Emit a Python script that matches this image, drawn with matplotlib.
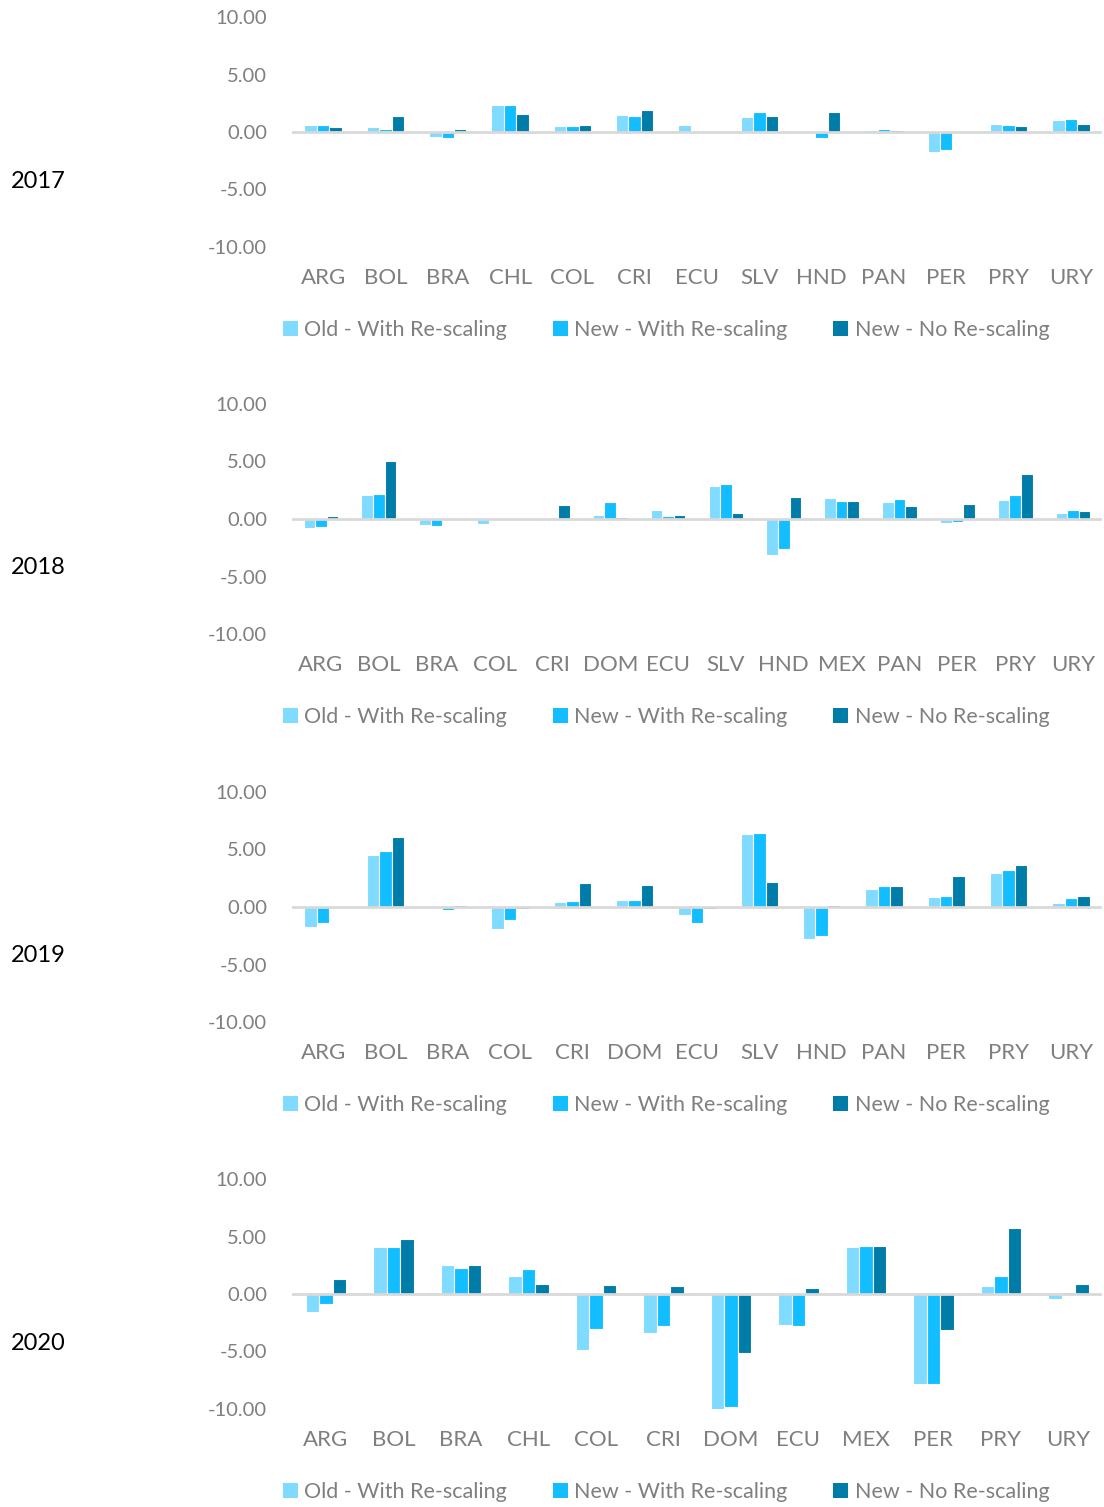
import matplotlib
matplotlib.use('Agg')
import matplotlib.pyplot as plt
import numpy as np
from matplotlib.patches import Patch

plt.rcParams['font.family'] = ['Lato', 'DejaVu Sans']

SERIES_NAMES = ['Old - With Re-scaling', 'New - With Re-scaling', 'New - No Re-scaling']
SERIES_COLORS = ['#7FDBFF', '#12BEFF', '#007CA8']
TEXT_GRAY = '#7F7F7F'

years = ['2017', '2018', '2019', '2020']

countries_2017 = ['ARG', 'BOL', 'BRA', 'CHL', 'COL', 'CRI', 'ECU', 'SLV', 'HND', 'PAN', 'PER', 'PRY', 'URY']
old_2017 = [0.61, 0.41, -0.45, 2.33, 0.49, 1.45, 0.61, 1.31, -0.05, 0.15, -1.70, 0.73, 1.02]
new_2017 = [0.61, 0.23, -0.50, 2.33, 0.52, 1.42, 0.09, 1.77, -0.52, 0.23, -1.57, 0.58, 1.10]
nor_2017 = [0.47, 1.40, 0.26, 1.54, 0.64, 1.95, -0.10, 1.37, 1.77, 0.15, -0.10, 0.52, 0.73]

countries_2018 = ['ARG', 'BOL', 'BRA', 'COL', 'CRI', 'DOM', 'ECU', 'SLV', 'HND', 'MEX', 'PAN', 'PER', 'PRY', 'URY']
old_2018 = [-0.75, 2.09, -0.49, -0.44, 0.12, 0.35, 0.78, 2.88, -3.14, 1.83, 1.48, -0.35, 1.66, 0.49]
new_2018 = [-0.67, 2.15, -0.64, 0.00, 0.09, 1.45, 0.23, 3.05, -2.65, 1.54, 1.74, -0.26, 2.09, 0.76]
nor_2018 = [0.29, 5.03, -0.10, 0.09, 1.22, 0.15, 0.35, 0.49, 1.92, 1.60, 1.13, 1.31, 3.90, 0.67]

countries_2019 = ['ARG', 'BOL', 'BRA', 'COL', 'CRI', 'DOM', 'ECU', 'SLV', 'HND', 'PAN', 'PER', 'PRY', 'URY']
old_2019 = [-1.72, 4.48, -0.05, -1.95, 0.47, 0.58, -0.70, 6.34, -2.82, 1.54, 0.84, 2.94, 0.38]
new_2019 = [-1.40, 4.88, -0.30, -1.16, 0.55, 0.58, -1.42, 6.43, -2.56, 1.86, 0.93, 3.20, 0.76]
nor_2019 = [0.00, 6.10, 0.20, -0.20, 2.06, 1.90, -0.20, 2.18, 0.15, 1.80, 2.70, 3.69, 0.99]

countries_2020 = ['ARG', 'BOL', 'BRA', 'CHL', 'COL', 'CRI', 'DOM', 'ECU', 'MEX', 'PER', 'PRY', 'URY']
old_2020 = [-1.54, 4.13, 2.53, 1.57, -4.83, -3.40, -10.06, -2.67, 4.10, -7.79, 0.73, -0.47]
new_2020 = [-0.84, 4.10, 2.27, 2.15, -3.08, -2.79, -9.80, -2.79, 4.19, -7.79, 1.54, 0.20]
nor_2020 = [1.31, 4.80, 2.53, 0.84, 0.78, 0.67, -5.17, 0.52, 4.19, -3.17, 5.76, 0.84]

panels = [
    (countries_2017, [old_2017, new_2017, nor_2017]),
    (countries_2018, [old_2018, new_2018, nor_2018]),
    (countries_2019, [old_2019, new_2019, nor_2019]),
    (countries_2020, [old_2020, new_2020, nor_2020]),
]

W, H = 1104, 1507
fig = plt.figure(figsize=(W / 100, H / 100), dpi=100)

panel_tops = [17, 404, 792, 1179]
plot_left, plot_right = 292, 1102
plot_height = 230
bar_w = 0.2

for year, top, (countries, series) in zip(years, panel_tops, panels):
    ax = fig.add_axes([plot_left / W, 1 - (top + plot_height) / H,
                       (plot_right - plot_left) / W, plot_height / H])
    x = np.arange(len(countries))
    for k, (vals, color) in enumerate(zip(series, SERIES_COLORS)):
        ax.bar(x + (k - 1) * bar_w, vals, width=bar_w, color=color,
               edgecolor='white', linewidth=0.8, zorder=2)
    ax.axhline(0, color='#D9D9D9', linewidth=2, zorder=3)
    ax.set_xlim(-0.5, len(countries) - 0.5)
    ax.set_ylim(-10, 10)
    ax.set_yticks([-10, -5, 0, 5, 10])
    ax.set_yticklabels([f'{v:.2f}' for v in [-10, -5, 0, 5, 10]])
    ax.set_xticks(x)
    ax.set_xticklabels(countries)
    ax.tick_params(axis='y', length=0, pad=18, labelsize=14.5, labelcolor=TEXT_GRAY)
    ax.tick_params(axis='x', length=0, pad=15, labelsize=16, labelcolor=TEXT_GRAY)
    for side in ax.spines.values():
        side.set_visible(False)

    handles = [Patch(facecolor=c, edgecolor='none', label=n)
               for c, n in zip(SERIES_COLORS, SERIES_NAMES)]
    ax.legend(handles=handles, ncol=3, loc='center', frameon=False,
              bbox_to_anchor=((666 - plot_left) / (plot_right - plot_left), -83 / plot_height),
              fontsize=15.5, labelcolor=TEXT_GRAY, handlelength=0.7, handleheight=0.7,
              handletextpad=0.3, columnspacing=2.12)

    fig.text(11 / W, 1 - (top + 164) / H, year, fontsize=17, color='black',
             ha='left', va='center')

fig.savefig('out.png', dpi=100)
